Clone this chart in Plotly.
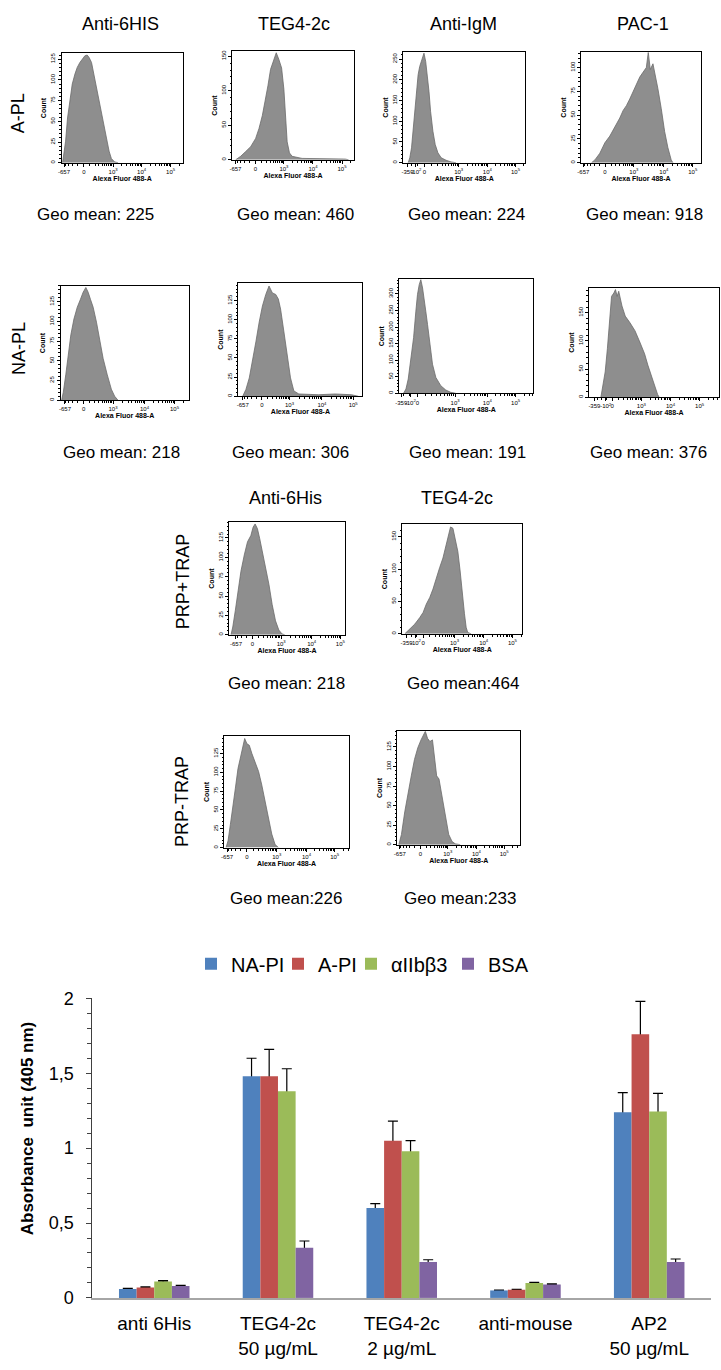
import math
import plotly.graph_objects as go

W, H = 721, 1370
FONT = "Arial, Liberation Sans, sans-serif"

# ---------------- flow cytometry histograms: display channel (0-1000) vs event count ----------------
apl_6his_ch = [8, 19, 33, 49, 68, 88, 110, 129, 151, 173, 192, 211, 227, 247, 266, 288, 315, 342, 370, 392, 411, 438, 466]
apl_6his_cnt = [0, 10, 26, 54, 77, 95, 107, 115, 121, 125, 129, 130, 127, 121, 107, 91, 71, 50, 30, 14, 5, 1, 0]

apl_teg_ch = [27, 68, 110, 151, 192, 219, 247, 274, 293, 315, 334, 351, 362, 384, 406, 425, 438, 452, 471, 493, 575, 712, 849, 932, 959]
apl_teg_cnt = [0, 5, 12, 19, 31, 45, 64, 88, 107, 131, 140, 150, 155, 145, 133, 102, 60, 26, 10, 5, 2, 2, 2, 1, 0]

apl_igm_ch = [41, 54, 68, 81, 95, 108, 122, 135, 149, 162, 170, 184, 197, 211, 224, 243, 262, 284, 311, 351, 392, 432]
apl_igm_cnt = [0, 12, 36, 76, 124, 172, 212, 232, 244, 256, 264, 244, 212, 172, 124, 76, 44, 24, 12, 6, 2, 0]

apl_pac_ch = [88, 116, 157, 199, 240, 268, 295, 323, 351, 378, 406, 433, 461, 489, 516, 544, 560, 577, 599, 621, 640, 668, 696, 723, 751, 765]
apl_pac_cnt = [0, 3, 10, 21, 28, 34, 41, 47, 55, 60, 67, 74, 83, 90, 95, 100, 116, 98, 104, 91, 78, 57, 33, 16, 3, 0]

napl_6his_ch = [8, 21, 41, 60, 80, 104, 130, 155, 176, 197, 215, 233, 254, 280, 306, 332, 363, 396, 422, 448]
napl_6his_cnt = [0, 10, 33, 58, 83, 103, 118, 128, 137, 143, 137, 128, 118, 99, 78, 53, 33, 14, 5, 0]

napl_teg_ch = [35, 61, 88, 114, 141, 168, 194, 221, 247, 274, 301, 322, 340, 367, 394, 420, 447, 487, 646, 779, 912, 966]
napl_teg_cnt = [0, 9, 24, 46, 71, 97, 118, 133, 144, 135, 133, 127, 114, 84, 50, 24, 7, 3, 2, 3, 2, 0]

napl_igm_ch = [32, 50, 67, 87, 107, 124, 136, 149, 161, 174, 186, 198, 211, 228, 248, 273, 310, 347, 384, 422]
napl_igm_cnt = [0, 13, 43, 98, 168, 248, 298, 328, 343, 318, 288, 248, 208, 148, 88, 48, 23, 10, 3, 0]

napl_pac_ch = [92, 105, 125, 142, 159, 174, 192, 204, 217, 229, 254, 279, 316, 354, 391, 428, 453, 478, 503, 528, 540]
napl_pac_cnt = [0, 16, 45, 86, 144, 179, 185, 191, 179, 188, 162, 144, 132, 118, 98, 77, 57, 40, 19, 5, 0]

prp_p_6his_ch = [14, 29, 51, 71, 100, 129, 157, 186, 206, 223, 243, 263, 286, 314, 343, 371, 400, 429, 457, 480]
prp_p_6his_cnt = [0, 10, 31, 52, 82, 103, 120, 128, 139, 143, 137, 124, 107, 86, 65, 39, 18, 6, 1, 0]

prp_p_teg_ch = [22, 63, 105, 146, 174, 201, 229, 256, 284, 311, 339, 366, 388, 402, 422, 441, 463, 482, 499, 518, 532, 545, 573]
prp_p_teg_cnt = [0, 8, 15, 25, 33, 46, 56, 69, 87, 102, 117, 137, 158, 165, 163, 148, 127, 97, 61, 31, 10, 2, 0]

prp_m_6his_ch = [13, 29, 48, 67, 88, 109, 128, 147, 163, 181, 200, 221, 248, 275, 301, 328, 355, 381, 408, 435]
prp_m_6his_cnt = [0, 9, 31, 57, 79, 105, 119, 130, 145, 138, 136, 125, 114, 101, 83, 61, 40, 18, 4, 0]

prp_m_teg_ch = [13, 34, 61, 87, 114, 140, 167, 193, 214, 228, 246, 265, 286, 304, 320, 339, 365, 392, 418, 445, 471, 511]
prp_m_teg_cnt = [0, 13, 42, 67, 88, 109, 124, 134, 142, 145, 136, 132, 134, 105, 88, 84, 59, 34, 13, 4, 1, 0]

# panel texts
row_labels = ["A-PL", "NA-PL", "PRP+TRAP", "PRP-TRAP"]
col_titles_top = ["Anti-6HIS", "TEG4-2c", "Anti-IgM", "PAC-1"]
col_titles_prp = ["Anti-6His", "TEG4-2c"]
geo_means = ["Geo mean: 225", "Geo mean: 460", "Geo mean: 224", "Geo mean: 918",
             "Geo mean: 218", "Geo mean: 306", "Geo mean: 191", "Geo mean: 376",
             "Geo mean: 218", "Geo mean:464", "Geo mean:226", "Geo mean:233"]

# ---------------- ELISA bar chart ----------------
categories = ["anti 6His", "TEG4-2c<br>50 µg/mL", "TEG4-2c<br>2 µg/mL", "anti-mouse", "AP2<br>50 µg/mL"]
series_names = ["NA-PI", "A-PI", "αIIbβ3", "BSA"]
na_pi = [0.06, 1.48, 0.60, 0.05, 1.24]
na_pi_err = [0.004, 0.12, 0.03, 0.003, 0.13]
a_pi = [0.07, 1.48, 1.05, 0.055, 1.76]
a_pi_err = [0.004, 0.18, 0.13, 0.003, 0.22]
aiib3 = [0.11, 1.38, 0.98, 0.10, 1.245]
aiib3_err = [0.005, 0.15, 0.07, 0.004, 0.12]
bsa = [0.08, 0.335, 0.24, 0.09, 0.24]
bsa_err = [0.004, 0.045, 0.015, 0.004, 0.02]
bar_colors = ["#4F81BD", "#C0504D", "#9BBB59", "#8064A2"]
legend_entry_widths = [42, 28, 52, 40]
y_tick_vals = [0, 0.5, 1, 1.5, 2]
y_tick_text = ["0", "0,5", "1", "1,5", "2"]

# ---------------- layout helpers ----------------
def pxx(x):
    return x / W

def pyy(y):
    return 1 - y / H

LAB_A = ["-657", "0", "10<sup>3</sup>", "10<sup>4</sup>", "10<sup>5</sup>"]
LAB_B = ["-359", "-10<sup>2</sup>", "0", "10<sup>3</sup>", "10<sup>4</sup>", "10<sup>5</sup>"]

# (channels, counts, box px (x0,x1,y0,y1), ymax, ystep, tick positions, tick labels)
panels = [
    (apl_6his_ch, apl_6his_cnt, (58, 180, 44, 155), 132, 25, [20, 184, 425, 660, 900], LAB_A),
    (apl_teg_ch, apl_teg_cnt, (230, 352, 42, 152), 157, 50, [25, 190, 425, 665, 905], LAB_A),
    (apl_igm_ch, apl_igm_cnt, (402, 525, 43, 155), 266, 50, [35, 103, 173, 454, 689, 919], LAB_B),
    (apl_pac_ch, apl_pac_cnt, (581, 702, 43, 155), 116, 25, [20, 200, 440, 690, 930], LAB_A),
    (napl_6his_ch, napl_6his_cnt, (57, 186, 280, 396), 145, 25, [34, 181, 409, 655, 889], LAB_A),
    (napl_teg_ch, napl_teg_cnt, (236, 361, 277, 392), 148, 25, [35, 189, 412, 673, 925], LAB_A),
    (napl_igm_ch, napl_igm_cnt, (398, 533, 273, 389), 345, 50, [15, 82, 136, 417, 657, 868], LAB_B),
    (napl_pac_ch, napl_pac_cnt, (589, 720, 282, 393), 194, 50, [42, 129, 179, 403, 627, 851], LAB_B),
    (prp_p_6his_ch, prp_p_6his_cnt, (227, 343, 520, 634), 145, 25, [57, 200, 449, 714, 963], LAB_A),
    (prp_p_teg_ch, prp_p_teg_cnt, (401, 522, 522, 633), 169, 50, [36, 110, 174, 435, 678, 917], LAB_B),
    (prp_m_6his_ch, prp_m_6his_cnt, (222, 347, 737, 850), 148, 25, [21, 181, 421, 661, 888], LAB_A),
    (prp_m_teg_ch, prp_m_teg_cnt, (396, 520, 732, 847), 145, 25, [21, 188, 410, 643, 868], LAB_A),
]


def minor_ticks(pos, labels):
    i0 = labels.index("0")
    p0 = pos[i0]
    p3, p4, p5 = pos[i0 + 1], pos[i0 + 2], pos[i0 + 3]
    w = 200.0
    norm = math.asinh(1000 / w)
    out = []
    for v in range(100, 1000, 100):
        out.append(p0 + (p3 - p0) * math.asinh(v / w) / norm)
        q = p0 - (p3 - p0) * math.asinh(v / w) / norm
        if q >= pos[0]:
            out.append(q)
    for pa, pb in [(p3, p4), (p4, p5), (p5, p5 + (p5 - p4))]:
        for m in range(2, 10):
            q = pa + (pb - pa) * math.log10(m)
            if q <= 1000:
                out.append(q)
    return out


fig = go.Figure()
layout = dict(
    width=W, height=H, margin=dict(l=0, r=0, t=0, b=0),
    paper_bgcolor="white", plot_bgcolor="white",
    font=dict(family=FONT, color="black"),
    showlegend=True, barmode="group", bargap=0.43, bargroupgap=0.0,
)

for i, (ch, cnt, box, ymax, ystep, tpos, tlab) in enumerate(panels):
    n = i + 1
    x0, x1, y0, y1 = box
    fig.add_trace(go.Scatter(
        x=ch, y=cnt, mode="lines", fill="tozeroy",
        line=dict(color="#6b6b6b", width=0.8), fillcolor="#8e8e8e",
        xaxis=f"x{n}", yaxis=f"y{n}", showlegend=False, hoverinfo="skip"))
    layout[f"xaxis{n}"] = dict(
        domain=[pxx(x0), pxx(x1)], anchor=f"y{n}", range=[0, 1000],
        showline=True, mirror=True, linecolor="black", linewidth=1,
        ticks="outside", ticklen=3, tickwidth=1, tickcolor="black",
        tickvals=tpos, ticktext=tlab, tickangle=0, tickfont=dict(size=6, family=FONT),
        showgrid=False, zeroline=False, fixedrange=True,
        minor=dict(tickvals=minor_ticks(tpos, tlab), ticks="outside", ticklen=2,
                   tickcolor="black", tickwidth=0.8, showgrid=False),
        title=dict(text="<b>Alexa Fluor 488-A</b>", font=dict(size=7, family=FONT), standoff=1),
    )
    layout[f"yaxis{n}"] = dict(
        domain=[pyy(y1), pyy(y0)], anchor=f"x{n}", range=[0, ymax],
        showline=True, mirror=True, linecolor="black", linewidth=1,
        ticks="outside", ticklen=3, tickwidth=1, tickcolor="black",
        tick0=0, dtick=ystep, tickangle=-90, tickfont=dict(size=6, family=FONT),
        showgrid=False, zeroline=False, fixedrange=True,
        minor=dict(dtick=ystep / 5, ticks="outside", ticklen=1.5, tickcolor="black",
                   tickwidth=0.8, showgrid=False),
        title=dict(text="<b>Count</b>", font=dict(size=7, family=FONT), standoff=2),
    )

# ---------------- bar chart ----------------
bar_vals = [na_pi, a_pi, aiib3, bsa]
bar_errs = [na_pi_err, a_pi_err, aiib3_err, bsa_err]
# error bars on the base layer (their lower half is hidden under the bars drawn on the overlay axis)
for name, vals, errs in zip(series_names, bar_vals, bar_errs):
    fig.add_trace(go.Bar(
        x=categories, y=vals, marker=dict(color="rgba(0,0,0,0)", line=dict(width=0)),
        error_y=dict(type="data", array=errs, color="black", thickness=1.2, width=5),
        xaxis="x13", yaxis="y13", showlegend=False, hoverinfo="skip"))
for name, vals, col, lw in zip(series_names, bar_vals, bar_colors, legend_entry_widths):
    fig.add_trace(go.Bar(
        x=categories, y=vals, name=name, marker=dict(color=col, line=dict(width=0)),
        legendwidth=lw, xaxis="x13", yaxis="y14"))

layout["xaxis13"] = dict(
    domain=[pxx(89), pxx(712)], anchor="y13", type="category",
    showline=True, linecolor="#a6a6a6", linewidth=1.5, ticks="",
    tickfont=dict(size=19, family=FONT), ticklabelstandoff=8,
    showgrid=False, zeroline=False, fixedrange=True,
)
layout["yaxis13"] = dict(
    domain=[pyy(1307), pyy(1003)], anchor="x13", range=[0, 2],
    showline=True, linecolor="#404040", linewidth=1,
    ticks="outside", ticklen=5, tickcolor="#404040", tickwidth=1,
    tickvals=y_tick_vals, ticktext=y_tick_text, tickfont=dict(size=18, family=FONT),
    ticklabelstandoff=9,
    minor=dict(tickvals=[k / 10 for k in range(1, 20) if k % 5], ticks="outside",
               ticklen=4, tickcolor="#404040", tickwidth=1, showgrid=False),
    showgrid=False, zeroline=False, fixedrange=True,
)
layout["yaxis14"] = dict(overlaying="y13", anchor="x13", range=[0, 2], visible=False, fixedrange=True)

layout["legend"] = dict(
    orientation="h", x=0.5, xanchor="center", y=pyy(968), yanchor="middle",
    font=dict(size=20, family=FONT), bgcolor="rgba(0,0,0,0)", itemwidth=30,
    traceorder="normal",
)

# ---------------- annotations ----------------
ann = []

def text(t, x, y, size, angle=0, bold=False):
    ann.append(dict(text=(f"<b>{t}</b>" if bold else t), x=pxx(x), y=pyy(y), xref="paper", yref="paper",
                    xanchor="center", yanchor="middle", showarrow=False, textangle=angle,
                    font=dict(size=size, family=FONT, color="black")))

for t, x in zip(col_titles_top, [117, 292, 463, 643]):
    text(t, x, 14, 18)
for t, x in zip(col_titles_prp, [283, 456]):
    text(t, x, 495, 18)
geo_pos = [(92, 208), (294, 208), (466, 208), (645, 208),
           (118, 449), (288, 449), (467, 449), (649, 449),
           (284, 683), (462, 683), (284, 902), (459, 902)]
for t, (x, y) in zip(geo_means, geo_pos):
    text(t, x, y, 17)
for t, (x, y) in zip(row_labels, [(15, 105), (15, 343), (180, 580), (180, 803)]):
    text(t, x, y, 18, angle=-90)
text("Absorbance  unit (405 nm)", 24, 1135, 17, angle=-90, bold=True)

layout["annotations"] = ann
fig.update_layout(**layout)
fig.write_html("out.html", config={"displayModeBar": False},
               post_script="document.body.style.margin='0px';document.body.style.overflow='hidden';")
